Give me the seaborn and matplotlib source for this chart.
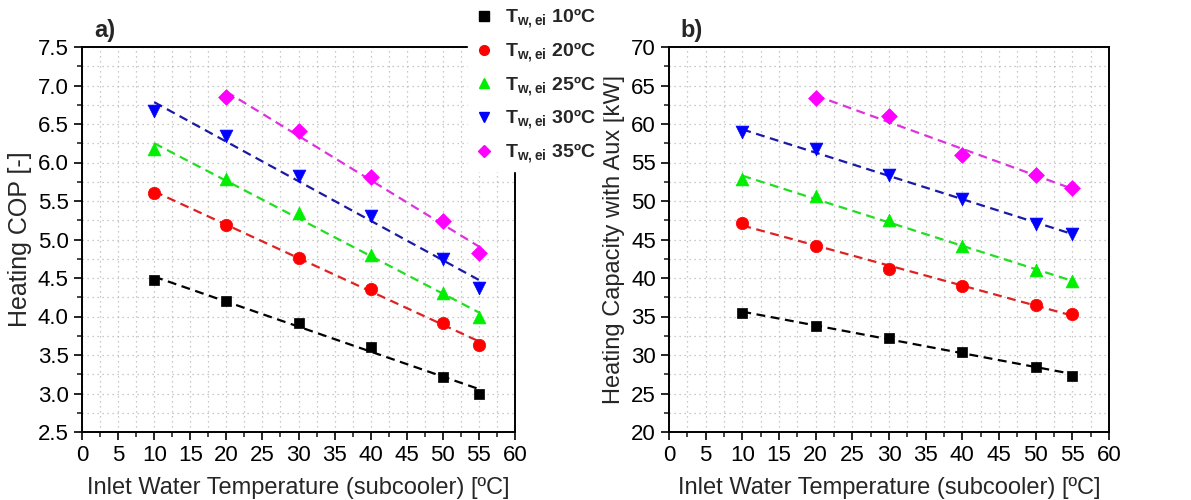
import seaborn as sns
import matplotlib.pyplot as plt
from matplotlib.ticker import MultipleLocator
import numpy as np
import pandas as pd

# inlet water temperature (subcooler) [ºC]
x_full = [10, 20, 30, 40, 50, 55]
x_35 = [20, 30, 40, 50, 55]

# heating COP [-]
cop_10 = [4.47, 4.20, 3.91, 3.60, 3.22, 3.00]
cop_20 = [5.61, 5.19, 4.76, 4.36, 3.92, 3.63]
cop_25 = [6.18, 5.79, 5.35, 4.80, 4.30, 4.00]
cop_30 = [6.67, 6.34, 5.82, 5.31, 4.75, 4.37]
cop_35 = [6.85, 6.41, 5.81, 5.24, 4.83]

# heating capacity with aux [kW]
cap_10 = [35.5, 33.8, 32.2, 30.4, 28.5, 27.3]
cap_20 = [47.1, 44.2, 41.2, 38.9, 36.5, 35.3]
cap_25 = [52.9, 50.6, 47.5, 44.1, 41.0, 39.6]
cap_30 = [58.9, 56.7, 53.4, 50.3, 47.0, 45.7]
cap_35 = [63.4, 61.1, 56.0, 53.4, 51.7]

series = ['10', '20', '25', '30', '35']
marker_colors = ['#000000', '#ff0000', '#00ee00', '#0000ff', '#ff00ff']
line_colors = ['#000000', '#dd2222', '#22dd22', '#1a1aa6', '#dd33dd']
markers = ['s', 'o', '^', 'v', 'D']
sizes = [60, 80, 85, 85, 65]

xs = [x_full, x_full, x_full, x_full, x_35]
cops = [cop_10, cop_20, cop_25, cop_30, cop_35]
caps = [cap_10, cap_20, cap_25, cap_30, cap_35]

sns.set_style('ticks')
plt.rcParams['font.family'] = ['Liberation Sans', 'DejaVu Sans']
plt.rcParams['mathtext.fontset'] = 'custom'
plt.rcParams['mathtext.rm'] = 'Liberation Sans'
plt.rcParams['mathtext.bf'] = 'Liberation Sans:bold'

fig = plt.figure(figsize=(11.91, 5.0), dpi=100)
ax1 = fig.add_axes([0.0689, 0.136, 0.3635, 0.770])
ax2 = fig.add_axes([0.5617, 0.136, 0.3695, 0.770])


def draw(ax, ydata):
    handles = []
    for i, s in enumerate(series):
        df = pd.DataFrame({'x': xs[i], 'y': ydata[i]})
        sns.regplot(data=df, x='x', y='y', ax=ax, ci=None, scatter=False,
                    truncate=True,
                    line_kws=dict(color=line_colors[i], ls=(0, (4, 2.5)), lw=1.6, zorder=3))
        sns.scatterplot(data=df, x='x', y='y', ax=ax, marker=markers[i], s=sizes[i],
                        color=marker_colors[i], edgecolor=marker_colors[i], linewidth=0.5,
                        zorder=4)
        h = plt.Line2D([], [], ls='none', marker=markers[i], color=marker_colors[i],
                       markersize=7 if markers[i] != 'D' else 6.5)
        handles.append(h)
    ax.set_xlim(0, 60)
    ax.xaxis.set_major_locator(MultipleLocator(5))
    ax.xaxis.set_minor_locator(MultipleLocator(2.5))
    ax.grid(True, which='both', ls=(0, (1, 3)), color='#b8b8b8', lw=0.9)
    ax.tick_params(which='major', direction='out', length=6, width=1.2, labelsize=16, colors='black')
    ax.tick_params(which='minor', direction='out', length=3.5, width=1.2)
    for sp in ax.spines.values():
        sp.set_linewidth(1.4)
        sp.set_color('black')
    ax.set_xlabel('Inlet Water Temperature (subcooler) [ºC]', fontsize=17, labelpad=8)
    return handles


handles = draw(ax1, cops)
ax1.set_ylim(2.5, 7.5)
ax1.yaxis.set_major_locator(MultipleLocator(0.5))
ax1.yaxis.set_minor_locator(MultipleLocator(0.25))
ax1.yaxis.set_major_formatter(lambda v, p: f'{v:.1f}')
ax1.set_ylabel('Heating COP [-]', fontsize=18, labelpad=4)

draw(ax2, caps)
ax2.set_ylim(20, 70)
ax2.yaxis.set_major_locator(MultipleLocator(5))
ax2.yaxis.set_minor_locator(MultipleLocator(2.5))
ax2.set_ylabel('Heating Capacity with Aux [kW]', fontsize=17, labelpad=4)

fig.text(0.079, 0.925, 'a)', fontsize=17, fontweight='bold')
fig.text(0.571, 0.925, 'b)', fontsize=17, fontweight='bold')

labels = [r'$\mathbf{T_{w,ei}}$ ' + s + 'ºC' for s in series]
leg = fig.legend(handles, labels, loc='upper left', bbox_to_anchor=(0.385, 1.018),
                 frameon=True, fancybox=False, framealpha=1, edgecolor='white',
                 facecolor='white', handlelength=1.0, handletextpad=0.6,
                 labelspacing=0.5, prop={'weight': 'bold', 'size': 14}, borderpad=0.3)
leg.set_zorder(10)

fig.savefig('out.png', dpi=100)
